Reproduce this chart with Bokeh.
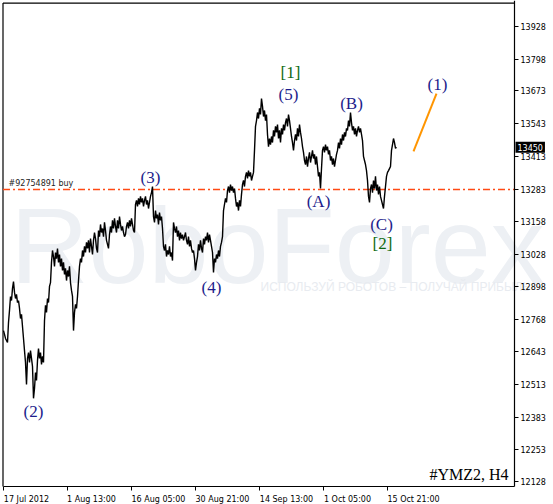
from bokeh.plotting import figure
from bokeh.models import FixedTicker, Label, Range1d
from bokeh.core.properties import value
from bokeh.embed import file_html
from bokeh.resources import INLINE

# ---------------- data ----------------
close = [
    12725, 12710, 12694, 12686, 12678, 12757, 12805, 12860, 12844, 12892,
    12919, 12876, 12852, 12868, 12836, 12844, 12813, 12773, 12789, 12741,
    12694, 12646, 12599, 12512, 12615, 12638, 12599, 12646, 12615, 12583,
    12457, 12496, 12559, 12528, 12607, 12654, 12615, 12638, 12591, 12623,
    12599, 12765, 12825, 12797, 12852, 12836, 12900, 12915, 12995, 13042,
    13018, 12979, 13034, 13010, 13050, 12995, 13026, 12979, 13010, 12963,
    12995, 12947, 12971, 12923, 12963, 12939, 12979, 12915, 12884, 12860,
    12725, 12797, 12829, 12813, 12860, 12923, 12979, 13010, 12995, 13042,
    13018, 13058, 13034, 13074, 13050, 13082, 13034, 13089, 13058, 13026,
    13082, 13113, 13089, 13050, 13034, 13121, 13097, 13145, 13113, 13129,
    13097, 13153, 13121, 13082, 13066, 13050, 13105, 13137, 13113, 13161,
    13129, 13169, 13137, 13113, 13161, 13129, 13176, 13145, 13121, 13137,
    13113, 13097, 13105, 13137, 13153, 13129, 13161, 13137, 13169, 13145,
    13121, 13113, 13224, 13240, 13216, 13248, 13224, 13256, 13232, 13248,
    13216, 13240, 13256, 13224, 13240, 13208, 13232, 13256, 13271, 13295,
    13176, 13153, 13200, 13169, 13184, 13145, 13192, 13161, 13176, 13129,
    13058, 13042, 13066, 13018, 13042, 13026, 13058, 13018, 13034, 13002,
    13153, 13129, 13113, 13137, 13097, 13121, 13082, 13113, 13089, 13105,
    13082, 13097, 13113, 13082, 13066, 13097, 13058, 13082, 13050, 13034,
    13042, 13010, 12963, 12995, 13018, 13066, 13042, 13082, 13050, 13034,
    13089, 13066, 13097, 13082, 13113, 13074, 13105, 13082, 13058, 13034,
    12955, 13010, 12995, 13026, 13010, 13042, 13018, 13058, 13074, 13097,
    13200, 13224, 13248, 13232, 13279, 13295, 13271, 13303, 13279, 13295,
    13271, 13287, 13248, 13216, 13232, 13200, 13240, 13216, 13264, 13303,
    13319, 13295, 13335, 13351, 13327, 13358, 13335, 13351, 13319, 13335,
    13351, 13438, 13533, 13556, 13588, 13564, 13604, 13580, 13643, 13612,
    13572, 13596, 13556, 13580, 13501, 13453, 13485, 13461, 13493, 13469,
    13517, 13493, 13533, 13509, 13540, 13485, 13517, 13469, 13525, 13501,
    13540, 13517, 13548, 13564, 13533, 13580, 13556, 13525, 13493, 13469,
    13438, 13477, 13501, 13477, 13525, 13493, 13540, 13509, 13485, 13453,
    13430, 13398, 13382, 13414, 13374, 13406, 13430, 13390, 13414, 13438,
    13406, 13422, 13382, 13414, 13374, 13335, 13351, 13287, 13366, 13438,
    13453, 13430, 13461, 13438, 13453, 13422, 13438, 13398, 13414, 13382,
    13406, 13374, 13398, 13422, 13438, 13469, 13446, 13485, 13461, 13501,
    13477, 13509, 13493, 13525, 13517, 13556, 13533, 13588, 13548, 13517,
    13533, 13501, 13525, 13493, 13517, 13533, 13509, 13525, 13501, 13477,
    13414, 13398, 13382, 13358, 13319, 13256, 13232, 13287, 13303, 13271,
    13319, 13287, 13335, 13279, 13303, 13264, 13295, 13256, 13240, 13224,
    13208, 13256, 13295, 13335, 13351, 13358, 13366, 13374, 13438, 13461,
    13485, 13469, 13446, 13450,
]
bars = list(range(len(close)))

y_ticks = [13928, 13798, 13673, 13543, 13413, 13283, 13158, 13028,
           12898, 12768, 12643, 12513, 12383, 12253, 12128]

x_tick_bars = [0, 64, 128, 192, 256, 320, 384]
x_tick_labels = ["17 Jul 2012", "1 Aug 13:00", "16 Aug 05:00", "30 Aug 21:00",
                 "14 Sep 13:00", "1 Oct 05:00", "15 Oct 21:00"]

wave_text = ["(2)", "(3)", "(4)", "(5)", "[1]", "(A)", "(B)", "(C)", "[2]", "(1)"]
wave_bar = [30, 147, 208, 285, 287, 315, 348, 378, 379, 434]
wave_price = [12405, 13331, 12896, 13659, 13746, 13236, 13624, 13145, 13070, 13699]
wave_degree = ["minor", "minor", "minor", "minor", "major", "minor", "minor", "minor", "major", "minor"]

proj_bar = [410, 433]
proj_price = [13434, 13663]

order_price = 13283
order_text = "#92754891 buy"
last_price = 13450
symbol_text = "#YMZ2, H4"

# ---------------- layout (chart window geometry) ----------------
W, H = 553, 504
X0, X1 = -3, 550            # whole canvas is the data frame
Y0, Y1 = 12037, 14031
AXIS_X = 511                # right price scale position (bar units)
AXIS_Y = 12108              # bottom time scale position (price units)
LEFT_X = -0.5               # chart window left border
TOP_Y = 14021               # chart window top border

AXIS_FONT = "DejaVu Sans"
AXIS_SIZE = 8
DV_W = {" ": 0.318, ":": 0.337, "J": 0.295, "u": 0.634, "l": 0.278, "A": 0.684,
        "g": 0.635, "S": 0.635, "e": 0.615, "p": 0.635, "O": 0.787, "c": 0.550,
        "t": 0.392}


def text_w(s):
    return sum(DV_W.get(ch, 0.636) for ch in s) * AXIS_SIZE


px_per_bar = W / (X1 - X0)

p = figure(width=W, height=H, output_backend="svg", toolbar_location=None,
           x_range=Range1d(X0, X1), y_range=Range1d(Y0, Y1),
           y_axis_location="right",
           min_border=0, min_border_left=0, min_border_top=0,
           min_border_right=0, min_border_bottom=0)
p.background_fill_color = "white"
p.border_fill_color = "white"
p.grid.visible = False
p.outline_line_color = None

# watermark
p.text(x=[7], y=[13062], text=["RoboForex"], text_font=value("Liberation Sans"),
       text_font_size="108px", text_color="#edf0f4", text_align="left",
       text_baseline="middle")
p.text(x=[257], y=[12896], text=["ИСПОЛЬЗУЙ РОБОТОВ – ПОЛУЧАЙ ПРИБЫЛЬ"],
       text_font=value("Liberation Sans"), text_font_size="12px",
       text_color="#e8ebf0", text_align="left", text_baseline="middle")

# window borders (left and top)
p.segment(x0=[LEFT_X, LEFT_X], y0=[TOP_Y, TOP_Y], x1=[LEFT_X, AXIS_X], y1=[AXIS_Y, TOP_Y],
          line_color="black", line_width=1.2)

# order line
p.line(x=[LEFT_X, AXIS_X], y=[order_price, order_price],
       line_color="#ff4a14", line_dash="7 3 2 3", line_width=1.4)
p.text(x=[5], y=[order_price + 8], text=[order_text], text_font=value(AXIS_FONT),
       text_font_size=f"{AXIS_SIZE}px", text_color="#1e1e1e", text_align="left",
       text_baseline="bottom")

# price line
p.line(bars, close, line_color="black", line_width=1.4)

# projection
p.line(proj_bar, proj_price, line_color="#ff9500", line_width=2)

# wave labels
col = {"minor": "#1d1d8c", "major": "#0d6a12"}
p.text(x=wave_bar, y=wave_price, text=wave_text,
       text_color=[col[d] for d in wave_degree],
       text_font=value("Liberation Serif"), text_font_size="17px",
       text_align="center", text_baseline="middle")

# symbol caption
p.text(x=[505], y=[12156], text=[symbol_text], text_font=value("Liberation Serif"),
       text_font_size="16px", text_color="black", text_align="right",
       text_baseline="middle")

# y axis (right price scale)
ya = p.yaxis[0]
ya.fixed_location = AXIS_X
ya.bounds = (AXIS_Y, Y1)
ya.ticker = FixedTicker(ticks=y_ticks)
ya.major_label_overrides = {v: str(v) for v in y_ticks}
ya.major_tick_out = 4
ya.major_tick_in = 0
ya.minor_tick_out = 0
ya.minor_tick_in = 0
ya.major_label_standoff = 2
ya.major_label_text_font = AXIS_FONT
ya.major_label_text_font_size = f"{AXIS_SIZE}px"
ya.major_label_text_color = "black"
ya.axis_line_color = "black"
ya.axis_line_width = 1.2
ya.major_tick_line_color = "black"

# x axis: labels start at their tick, as the terminal draws them
centers = [int(round(b + text_w(t) / 2 / px_per_bar)) for b, t in zip(x_tick_bars, x_tick_labels)]
xa = p.xaxis[0]
xa.fixed_location = AXIS_Y
xa.bounds = (LEFT_X, AXIS_X)
xa.ticker = FixedTicker(ticks=centers, minor_ticks=x_tick_bars)
xa.major_label_overrides = {c: t for c, t in zip(centers, x_tick_labels)}
xa.major_tick_out = 0
xa.major_tick_in = 0
xa.minor_tick_out = 4
xa.minor_tick_in = 0
xa.minor_tick_line_color = "black"
xa.major_label_standoff = 4
xa.major_label_text_font = AXIS_FONT
xa.major_label_text_font_size = f"{AXIS_SIZE}px"
xa.major_label_text_color = "black"
xa.axis_line_color = "black"
xa.axis_line_width = 1.2

# last price marker on the price scale
p.add_layout(Label(x=AXIS_X, y=last_price, text=str(last_price), x_offset=1,
                   text_baseline="middle", text_align="left",
                   text_font=AXIS_FONT, text_font_size=f"{AXIS_SIZE}px",
                   text_color="white", background_fill_color="black",
                   padding=2))

open("out.html", "w").write(file_html(p, INLINE))
